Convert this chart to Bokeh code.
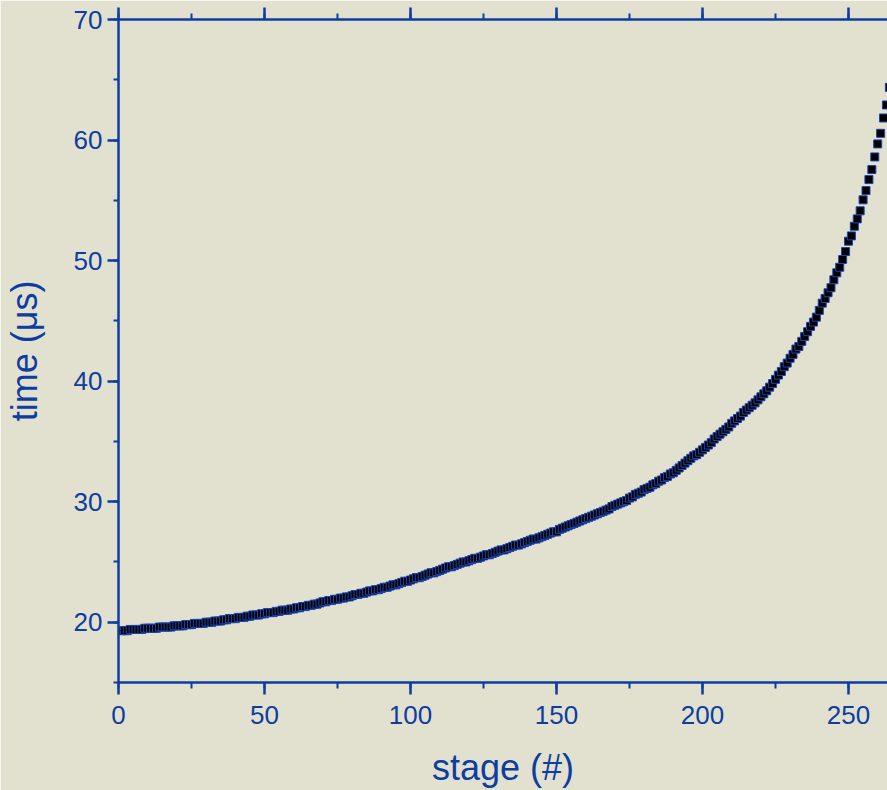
from bokeh.plotting import figure
from bokeh.models import Range1d, LinearAxis, SingleIntervalTicker, ColumnDataSource
from bokeh.embed import file_html
from bokeh.resources import INLINE

# ---- data ----
stage = list(range(1, 265))
time_us = [
    19.3, 19.3, 19.3, 19.4, 19.4, 19.4, 19.4, 19.4, 19.5, 19.5,  # 1-10
    19.5, 19.5, 19.5, 19.6, 19.6, 19.6, 19.6, 19.6, 19.7, 19.7,  # 11-20
    19.7, 19.7, 19.8, 19.8, 19.8, 19.9, 19.9, 19.9, 19.9, 20.0,  # 21-30
    20.0, 20.0, 20.1, 20.1, 20.1, 20.2, 20.2, 20.3, 20.3, 20.3,  # 31-40
    20.4, 20.4, 20.4, 20.5, 20.5, 20.6, 20.6, 20.6, 20.7, 20.7,  # 41-50
    20.8, 20.8, 20.8, 20.9, 20.9, 21.0, 21.0, 21.0, 21.1, 21.1,  # 51-60
    21.2, 21.2, 21.3, 21.3, 21.4, 21.4, 21.5, 21.5, 21.6, 21.7,  # 61-70
    21.7, 21.8, 21.8, 21.9, 21.9, 22.0, 22.0, 22.1, 22.1, 22.2,  # 71-80
    22.3, 22.3, 22.4, 22.4, 22.5, 22.6, 22.6, 22.7, 22.7, 22.8,  # 81-90
    22.9, 22.9, 23.0, 23.1, 23.1, 23.2, 23.3, 23.4, 23.4, 23.5,  # 91-100
    23.6, 23.7, 23.7, 23.8, 23.9, 24.0, 24.1, 24.1, 24.2, 24.3,  # 101-110
    24.4, 24.5, 24.6, 24.6, 24.7, 24.8, 24.9, 25.0, 25.0, 25.1,  # 111-120
    25.2, 25.3, 25.3, 25.4, 25.5, 25.6, 25.6, 25.7, 25.8, 25.9,  # 121-130
    26.0, 26.0, 26.1, 26.2, 26.3, 26.4, 26.4, 26.5, 26.6, 26.7,  # 131-140
    26.8, 26.9, 26.9, 27.0, 27.1, 27.2, 27.3, 27.4, 27.5, 27.5,  # 141-150
    27.7, 27.8, 27.9, 28.0, 28.1, 28.2, 28.3, 28.4, 28.5, 28.6,  # 151-160
    28.7, 28.8, 28.9, 29.0, 29.1, 29.2, 29.3, 29.4, 29.6, 29.7,  # 161-170
    29.8, 29.9, 30.0, 30.1, 30.3, 30.4, 30.6, 30.7, 30.8, 31.0,  # 171-180
    31.1, 31.2, 31.4, 31.5, 31.7, 31.8, 32.0, 32.1, 32.3, 32.4,  # 181-190
    32.6, 32.8, 33.0, 33.2, 33.4, 33.6, 33.8, 33.9, 34.1, 34.3,  # 191-200
    34.5, 34.7, 34.9, 35.2, 35.4, 35.6, 35.8, 36.0, 36.2, 36.5,  # 201-210
    36.7, 36.9, 37.1, 37.4, 37.6, 37.8, 38.0, 38.2, 38.45, 38.7,  # 211-220
    38.95, 39.2, 39.5, 39.8, 40.15, 40.5, 40.8, 41.2, 41.5, 41.9,  # 221-230
    42.22, 42.66, 42.88, 43.30, 43.71, 44.10, 44.54, 44.90, 45.31, 45.87,  # 231-240
    46.47, 46.86, 47.33, 47.75, 48.41, 48.99, 49.45, 50.09, 50.75, 51.61,  # 241-250
    52.05, 52.85, 53.46, 54.13, 55.04, 55.81, 56.72, 57.55, 58.60, 59.68,  # 251-260
    60.56, 61.83, 62.91, 64.37,  # 261-264
]

x_major_step = 50
y_major_step = 10
x_limits = (0, 263.36)
y_limits = (15, 70)
x_title = "stage (#)"
y_title = "time (\u03bcs)"

BLUE = "#0d3d9f"
BG = "#e2e1d0"
FONT = "Liberation Sans"

p = figure(
    width=887, height=790,
    x_range=Range1d(*x_limits), y_range=Range1d(*y_limits),
    output_backend="svg", toolbar_location=None,
    x_axis_location=None, y_axis_location=None,
    min_border_left=118, min_border_right=0,
    min_border_top=19, min_border_bottom=107,
)
p.background_fill_color = BG
p.border_fill_color = BG
p.outline_line_color = None
p.xgrid.visible = False
p.ygrid.visible = False

def style(ax, tick_out, minor_out):
    ax.axis_line_color = BLUE
    ax.axis_line_width = 2.5
    ax.major_tick_line_color = BLUE
    ax.major_tick_line_width = 2.5
    ax.minor_tick_line_color = BLUE
    ax.minor_tick_line_width = 2
    ax.major_tick_in = 0
    ax.minor_tick_in = 0
    ax.major_tick_out = tick_out
    ax.minor_tick_out = minor_out
    ax.major_label_text_color = BLUE
    ax.major_label_text_font = FONT
    ax.major_label_text_font_size = "26px"
    ax.axis_label_text_color = BLUE
    ax.axis_label_text_font = FONT
    ax.axis_label_text_font_size = "36px"
    ax.axis_label_text_font_style = "normal"

xb = LinearAxis(ticker=SingleIntervalTicker(interval=x_major_step, num_minor_ticks=2),
                axis_label=x_title)
style(xb, 12, 6)
xb.major_label_standoff = 11
xb.axis_label_standoff = 20
p.add_layout(xb, "below")

xt = LinearAxis(ticker=SingleIntervalTicker(interval=x_major_step, num_minor_ticks=2))
style(xt, 12, 6)
xt.major_label_text_color = None
xt.major_label_text_font_size = "1px"
xt.major_label_standoff = 0
p.add_layout(xt, "above")

yl = LinearAxis(ticker=SingleIntervalTicker(interval=y_major_step, num_minor_ticks=2),
                axis_label=y_title)
style(yl, 11, 5)
yl.major_label_standoff = 5
yl.axis_label_standoff = 26
p.add_layout(yl, "left")

src = ColumnDataSource(dict(stage=stage, time=time_us))
p.scatter("stage", "time", source=src, marker="square", size=8,
          fill_color="black", line_color="#1d45b0", line_width=1)

open("out.html", "w").write(file_html(p, INLINE))
